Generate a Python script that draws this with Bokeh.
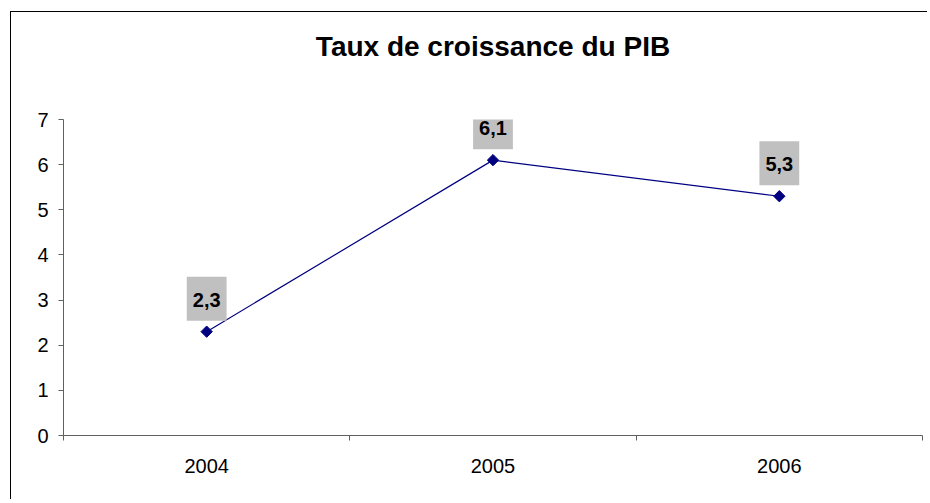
import math
from bokeh.plotting import figure
from bokeh.models import ColumnDataSource, FixedTicker, Range1d, LinearAxis
from bokeh.core.properties import value
from bokeh.embed import file_html
from bokeh.resources import INLINE

# ---- data ----
years = [2004, 2005, 2006]
year_labels = ["2004", "2005", "2006"]
growth = [2.3, 6.1, 5.3]
y_ticks = [0, 1, 2, 3, 4, 5, 6, 7]
title_text = "Taux de croissance du PIB"

labels = [f"{v:.1f}".replace(".", ",") for v in growth]
src = ColumnDataSource(dict(x=years, y=growth, label=labels))

FONT = "Liberation Sans"
AXIS_COLOR = "#606060"

p = figure(width=917, height=488, output_backend="svg", toolbar_location=None,
           x_range=Range1d(years[0] - 0.5, years[-1] + 0.5),
           y_range=Range1d(y_ticks[0], y_ticks[-1]),
           min_border_left=52, min_border_right=6,
           min_border_top=107, min_border_bottom=65)

# chart-area border: left and top edges visible, the rest runs off the page
p.styles = {"margin-left": "10px", "margin-top": "11px", "overflow": "hidden",
            "border-left": "1px solid black", "border-top": "1px solid black"}

p.background_fill_color = "white"
p.border_fill_color = "white"
p.outline_line_color = None
p.xgrid.visible = False
p.ygrid.visible = False

# the bottom category axis (grab it before adding the title axis)
xa = p.below[0]
ya = p.left[0]

# chart title, carried by a bare axis above the plot area (centred on it)
title_axis = LinearAxis(ticker=FixedTicker(ticks=[]), axis_label=title_text,
                        axis_line_color=None, major_tick_line_color=None,
                        minor_tick_line_color=None,
                        major_tick_in=0, major_tick_out=0,
                        minor_tick_in=0, minor_tick_out=0,
                        major_label_standoff=0,
                        major_label_text_font_size="0px",
                        axis_label_standoff=58,
                        axis_label_text_font=FONT,
                        axis_label_text_font_size="28px",
                        axis_label_text_font_style="bold",
                        axis_label_text_color="black")
p.add_layout(title_axis, "above")

# x axis: labels at category centres, ticks at boundaries
xa.ticker = FixedTicker(ticks=years,
                        minor_ticks=[y - 0.5 for y in years] + [years[-1] + 0.5])
xa.major_label_overrides = {y: s for y, s in zip(years, year_labels)}
xa.major_tick_out = 0
xa.major_tick_in = 0
xa.minor_tick_out = 5
xa.minor_tick_in = 0
xa.major_label_standoff = 18
xa.axis_line_color = AXIS_COLOR
xa.minor_tick_line_color = AXIS_COLOR
xa.major_label_text_font = FONT
xa.major_label_text_font_size = "20px"
xa.major_label_text_color = "black"

ya.ticker = FixedTicker(ticks=y_ticks)
ya.major_tick_out = 5
ya.major_tick_in = 0
ya.minor_tick_line_color = None
ya.major_label_standoff = 10
ya.axis_line_color = AXIS_COLOR
ya.major_tick_line_color = AXIS_COLOR
ya.major_label_text_font = FONT
ya.major_label_text_font_size = "20px"
ya.major_label_text_color = "black"

# series
p.line("x", "y", source=src, line_color="#000080", line_width=1.2)
p.scatter("x", "y", source=src, marker="square", angle=math.pi / 4, size=8,
          fill_color="#000080", line_color="#000080")

# data labels with grey boxes
p.text("x", "y", text="label", source=src, y_offset=-33,
       text_align="center", text_baseline="middle",
       text_font=value(FONT), text_font_size="20px", text_font_style="bold",
       text_color="black", background_fill_color="#c0c0c0",
       padding=dict(left=6, right=6, top=16, bottom=14))

open("out.html", "w").write(file_html(p, INLINE))
